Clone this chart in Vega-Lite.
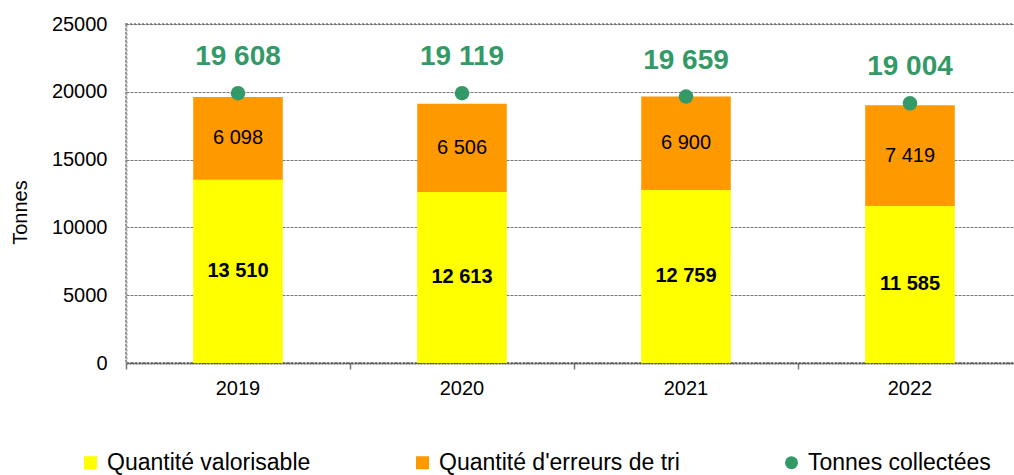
{
  "$schema": "https://vega.github.io/schema/vega-lite/v6.json",
  "autosize": "none",
  "width": 896,
  "height": 339,
  "padding": {"left": 126, "top": 24, "right": 0, "bottom": 112},
  "config": {
    "font": "Liberation Sans",
    "view": {"stroke": "#999999", "strokeDash": [2, 2], "strokeWidth": 2},
    "axis": {"labelFont": "Liberation Sans", "titleFont": "Liberation Sans", "labelColor": "#000000", "titleColor": "#000000"},
    "legend": {"labelFont": "Liberation Sans", "labelLimit": 600}
  },
  "datasets": {
    "bars": [
      {"year": "2019", "category": "Quantité valorisable", "value": 13510, "label": "13 510"},
      {"year": "2019", "category": "Quantité d'erreurs de tri", "value": 6098, "label": "6 098"},
      {"year": "2020", "category": "Quantité valorisable", "value": 12613, "label": "12 613"},
      {"year": "2020", "category": "Quantité d'erreurs de tri", "value": 6506, "label": "6 506"},
      {"year": "2021", "category": "Quantité valorisable", "value": 12759, "label": "12 759"},
      {"year": "2021", "category": "Quantité d'erreurs de tri", "value": 6900, "label": "6 900"},
      {"year": "2022", "category": "Quantité valorisable", "value": 11585, "label": "11 585"},
      {"year": "2022", "category": "Quantité d'erreurs de tri", "value": 7419, "label": "7 419"}
    ],
    "points": [
      {"year": "2019", "category": "Tonnes collectées", "position": 19900, "total": "19 608"},
      {"year": "2020", "category": "Tonnes collectées", "position": 19900, "total": "19 119"},
      {"year": "2021", "category": "Tonnes collectées", "position": 19650, "total": "19 659"},
      {"year": "2022", "category": "Tonnes collectées", "position": 19150, "total": "19 004"}
    ]
  },
  "encoding": {
    "x": {
      "field": "year", "type": "nominal",
      "scale": {"paddingInner": 0, "paddingOuter": 0},
      "axis": {
        "title": null, "labelAngle": 0, "labelFontSize": 20, "labelPadding": 9,
        "bandPosition": 0, "ticks": true, "tickSize": 6, "tickColor": "#777777", "tickWidth": 1.5,
        "domainColor": "#555555", "domainWidth": 2, "domainDash": [2, 1], "grid": false
      }
    }
  },
  "layer": [
    {
      "data": {"name": "bars"},
      "mark": {"type": "bar", "width": {"band": 0.4}},
      "encoding": {
        "y": {
          "field": "value", "type": "quantitative", "stack": "zero",
          "scale": {"domain": [0, 25000], "nice": false},
          "axis": {
            "title": "Tonnes", "titleFontSize": 20, "titleFontWeight": "normal",
            "titleX": -106, "titleY": 188, "titleAngle": -90, "titleAlign": "center", "titleBaseline": "middle",
            "values": [0, 5000, 10000, 15000, 20000, 25000], "format": "d",
            "labelFontSize": 20, "labelPadding": 19, "ticks": false,
            "domainColor": "#999999", "domainWidth": 2, "domainDash": [2, 2],
            "grid": true, "gridColor": "#555555", "gridWidth": 0.8, "gridDash": [3, 1]
          }
        },
        "color": {
          "field": "category", "type": "nominal",
          "scale": {
            "domain": ["Quantité valorisable", "Quantité d'erreurs de tri", "Tonnes collectées"],
            "range": ["#FFFF00", "#FF9900", "#339966"]
          },
          "legend": {
            "title": null, "orient": "none", "direction": "horizontal", "columns": 3,
            "legendX": -47, "legendY": 427, "labelFontSize": 23, "labelColor": "#000000", "labelLimit": 600,
            "symbolSize": 169, "symbolStrokeWidth": 0, "columnPadding": 100, "labelOffset": 5
          }
        },
        "order": {"field": "category", "sort": "descending"}
      }
    },
    {
      "data": {"name": "bars"},
      "transform": [
        {"stack": "value", "groupby": ["year"], "sort": [{"field": "category", "order": "descending"}], "as": ["v0", "v1"]},
        {"fold": ["v0", "v1"], "as": ["edge", "pos"]},
        {"aggregate": [{"op": "mean", "field": "pos", "as": "mid"}], "groupby": ["year", "category", "label"]},
        {"filter": "datum.category === 'Quantité valorisable'"}
      ],
      "mark": {"type": "text", "fontSize": 20, "fontWeight": "bold", "color": "#000000", "baseline": "middle"},
      "encoding": {
        "y": {"field": "mid", "type": "quantitative"},
        "text": {"field": "label"}
      }
    },
    {
      "data": {"name": "bars"},
      "transform": [
        {"stack": "value", "groupby": ["year"], "sort": [{"field": "category", "order": "descending"}], "as": ["v0", "v1"]},
        {"fold": ["v0", "v1"], "as": ["edge", "pos"]},
        {"aggregate": [{"op": "mean", "field": "pos", "as": "mid"}], "groupby": ["year", "category", "label"]},
        {"filter": "datum.category === \"Quantité d'erreurs de tri\""}
      ],
      "mark": {"type": "text", "fontSize": 20, "fontWeight": "normal", "color": "#000000", "baseline": "middle"},
      "encoding": {
        "y": {"field": "mid", "type": "quantitative"},
        "text": {"field": "label"}
      }
    },
    {
      "data": {"name": "points"},
      "mark": {"type": "point", "filled": true, "opacity": 1, "size": 210},
      "encoding": {
        "y": {"field": "position", "type": "quantitative"},
        "color": {"field": "category", "type": "nominal"},
        "shape": {
          "field": "category", "type": "nominal",
          "scale": {
            "domain": ["Quantité valorisable", "Quantité d'erreurs de tri", "Tonnes collectées"],
            "range": ["square", "square", "circle"]
          },
          "legend": {
            "title": null, "orient": "none", "direction": "horizontal", "columns": 3,
            "legendX": -47, "legendY": 427, "labelFontSize": 23, "labelColor": "#000000", "labelLimit": 600,
            "symbolSize": 169, "symbolStrokeWidth": 0, "columnPadding": 100, "labelOffset": 5
          }
        }
      }
    },
    {
      "data": {"name": "points"},
      "mark": {"type": "text", "fontSize": 28, "fontWeight": "bold", "color": "#339966", "baseline": "middle", "dy": -36},
      "encoding": {
        "y": {"field": "position", "type": "quantitative"},
        "text": {"field": "total"}
      }
    }
  ]
}
